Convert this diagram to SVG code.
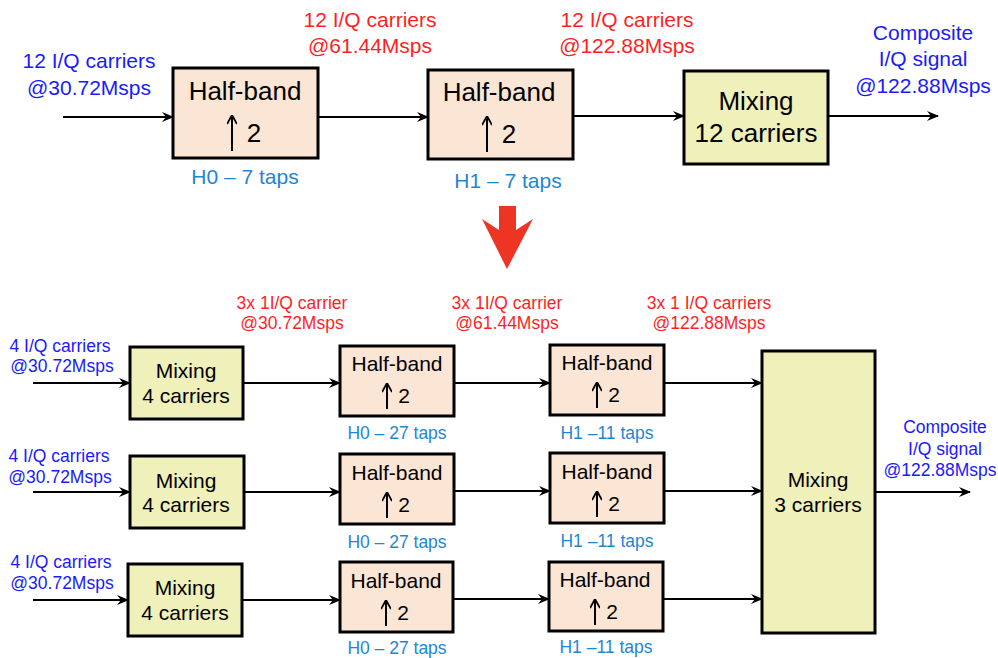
<svg xmlns="http://www.w3.org/2000/svg" width="998" height="658" viewBox="0 0 998 658">
<defs>
<marker id="ah" markerWidth="12" markerHeight="10" refX="11" refY="5" orient="auto" markerUnits="userSpaceOnUse">
<path d="M0,0 L12,5 L0,10 L4,5 z" fill="#000"/>
</marker>
<marker id="up" markerWidth="10" markerHeight="10" refX="5" refY="1" orient="0" markerUnits="userSpaceOnUse">
<path d="M0,9 L5,0 L10,9" fill="none" stroke="#000" stroke-width="1.8"/>
</marker>
</defs>
<style>
text{font-family:"Liberation Sans",Arial,sans-serif;text-anchor:middle}
.hb{fill:#fbe5d5;stroke:#000;stroke-width:3}
.mx{fill:#eff0ba;stroke:#000;stroke-width:3}
.c{stroke:#000;stroke-width:2;fill:none;marker-end:url(#ah)}
.u{stroke:#000;stroke-width:2;fill:none}
.blue{fill:#1a1aff}
.red{fill:#ff1f1f}
.tap{fill:#1f86d2}
.L{font-size:26px;fill:#000}
.M{font-size:21px;fill:#000}
.t1{font-size:21px}
.t2{font-size:17.5px}
</style>

<g id="connectors">
<line class="c" x1="63" y1="117" x2="173" y2="117"/>
<line class="c" x1="318" y1="117" x2="428" y2="117"/>
<line class="c" x1="573" y1="116" x2="684" y2="116"/>
<line class="c" x1="828" y1="116" x2="938" y2="116"/>

<line class="c" x1="33" y1="383" x2="130" y2="383"/>
<line class="c" x1="243" y1="383" x2="340" y2="383"/>
<line class="c" x1="454" y1="383" x2="550" y2="383"/>
<line class="c" x1="664" y1="383" x2="762" y2="383"/>

<line class="c" x1="33" y1="492" x2="130" y2="492"/>
<line class="c" x1="244" y1="492" x2="340" y2="492"/>
<line class="c" x1="454" y1="491" x2="550" y2="491"/>
<line class="c" x1="664" y1="491" x2="762" y2="491"/>

<line class="c" x1="33" y1="600" x2="128" y2="600"/>
<line class="c" x1="242" y1="600" x2="340" y2="600"/>
<line class="c" x1="453" y1="599" x2="549" y2="599"/>
<line class="c" x1="663" y1="599" x2="762" y2="599"/>

<line class="c" x1="875" y1="492" x2="970" y2="492"/>
</g>

<g id="top-labels">
<text class="blue t1" x="89" y="68">12 I/Q carriers</text>
<text class="blue t1" x="89" y="95">@30.72Msps</text>
<text class="red t1" x="370" y="27">12 I/Q carriers</text>
<text class="red t1" x="370" y="53">@61.44Msps</text>
<text class="red t1" x="627" y="27">12 I/Q carriers</text>
<text class="red t1" x="627" y="53">@122.88Msps</text>
<text class="blue t1" x="923" y="40">Composite</text>
<text class="blue t1" x="923" y="66">I/Q signal</text>
<text class="blue t1" x="923" y="93">@122.88Msps</text>
</g>

<g id="top-hb0">
<rect class="hb" x="173" y="68" width="145" height="90"/>
<text class="L" x="245" y="100">Half-band</text>
<line class="u" x1="232" y1="151" x2="232" y2="116" marker-end="url(#up)"/>
<text class="L" x="254" y="142">2</text>
<text class="tap t1" x="245" y="184">H0 – 7 taps</text>
</g>
<g id="top-hb1">
<rect class="hb" x="428" y="70" width="145" height="89"/>
<text class="L" x="499" y="101">Half-band</text>
<line class="u" x1="487" y1="152" x2="487" y2="117" marker-end="url(#up)"/>
<text class="L" x="509" y="143">2</text>
<text class="tap t1" x="508" y="188">H1 – 7 taps</text>
</g>
<g id="top-mix">
<rect class="mx" x="684" y="71" width="144" height="93"/>
<text class="L" x="756" y="110">Mixing</text>
<text class="L" x="756" y="142">12 carriers</text>
</g>

<g id="big-arrow">
<polygon points="499,206 516,206 516,230 533,219 507,269 482,219 499,230" fill="#ee3524"/>
</g>

<g id="bottom-labels">
<text class="red t2" x="292" y="309">3x 1I/Q carrier</text>
<text class="red t2" x="292" y="329">@30.72Msps</text>
<text class="red t2" x="507" y="309">3x 1I/Q carrier</text>
<text class="red t2" x="507" y="329">@61.44Msps</text>
<text class="red t2" x="709" y="309">3x 1 I/Q carriers</text>
<text class="red t2" x="709" y="329">@122.88Msps</text>
<text class="blue t2" x="60" y="352">4 I/Q carriers</text>
<text class="blue t2" x="62" y="372">@30.72Msps</text>
<text class="blue t2" x="59" y="462">4 I/Q carriers</text>
<text class="blue t2" x="60" y="483">@30.72Msps</text>
<text class="blue t2" x="61" y="568">4 I/Q carriers</text>
<text class="blue t2" x="62" y="589">@30.72Msps</text>
<text class="blue t2" x="945" y="433">Composite</text>
<text class="blue t2" x="945" y="455">I/Q signal</text>
<text class="blue t2" x="940" y="476">@122.88Msps</text>
</g>

<g id="mix-r1">
<rect class="mx" x="130" y="347" width="113" height="72"/>
<text class="M" x="186" y="378">Mixing</text>
<text class="M" x="186" y="403">4 carriers</text>
</g>
<g id="mix-r2">
<rect class="mx" x="130" y="456" width="114" height="72"/>
<text class="M" x="186" y="488">Mixing</text>
<text class="M" x="186" y="512">4 carriers</text>
</g>
<g id="mix-r3">
<rect class="mx" x="128" y="564" width="114" height="72"/>
<text class="M" x="185" y="595">Mixing</text>
<text class="M" x="185" y="620">4 carriers</text>
</g>

<g id="hb0-r1">
<rect class="hb" x="340" y="346" width="114" height="70"/>
<text class="M" x="397" y="371">Half-band</text>
<line class="u" x1="387" y1="409" x2="387" y2="384" marker-end="url(#up)"/>
<text class="M" x="404" y="403">2</text>
<text class="tap t2" x="397" y="439">H0 – 27 taps</text>
</g>
<g id="hb0-r2">
<rect class="hb" x="340" y="454" width="114" height="70"/>
<text class="M" x="397" y="480">Half-band</text>
<line class="u" x1="387" y1="518" x2="387" y2="493" marker-end="url(#up)"/>
<text class="M" x="404" y="512">2</text>
<text class="tap t2" x="397" y="548">H0 – 27 taps</text>
</g>
<g id="hb0-r3">
<rect class="hb" x="340" y="562" width="113" height="70"/>
<text class="M" x="396" y="588">Half-band</text>
<line class="u" x1="386" y1="626" x2="386" y2="601" marker-end="url(#up)"/>
<text class="M" x="403" y="620">2</text>
<text class="tap t2" x="397" y="654">H0 – 27 taps</text>
</g>

<g id="hb1-r1">
<rect class="hb" x="550" y="345" width="114" height="70"/>
<text class="M" x="607" y="370">Half-band</text>
<line class="u" x1="597" y1="408" x2="597" y2="383" marker-end="url(#up)"/>
<text class="M" x="614" y="402">2</text>
<text class="tap t2" x="607" y="439">H1 –11 taps</text>
</g>
<g id="hb1-r2">
<rect class="hb" x="550" y="453" width="114" height="70"/>
<text class="M" x="607" y="479">Half-band</text>
<line class="u" x1="597" y1="517" x2="597" y2="492" marker-end="url(#up)"/>
<text class="M" x="614" y="511">2</text>
<text class="tap t2" x="607" y="547">H1 –11 taps</text>
</g>
<g id="hb1-r3">
<rect class="hb" x="549" y="562" width="114" height="69"/>
<text class="M" x="605" y="587">Half-band</text>
<line class="u" x1="595" y1="625" x2="595" y2="600" marker-end="url(#up)"/>
<text class="M" x="612" y="619">2</text>
<text class="tap t2" x="606" y="653">H1 –11 taps</text>
</g>

<g id="mix3">
<rect class="mx" x="762" y="351" width="113" height="282"/>
<text class="M" x="818" y="487">Mixing</text>
<text class="M" x="818" y="512">3 carriers</text>
</g>
</svg>
